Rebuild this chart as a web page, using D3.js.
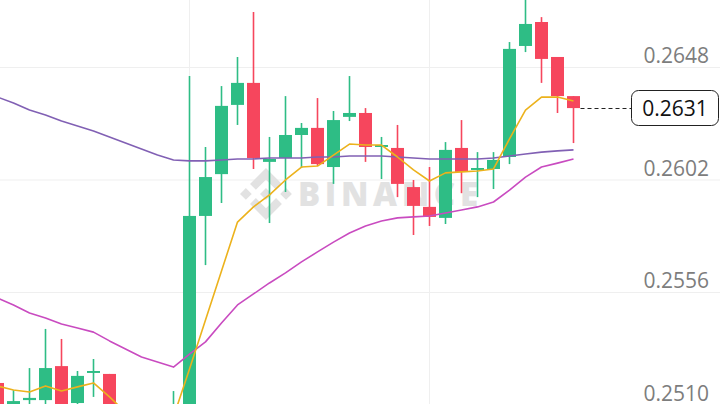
<!DOCTYPE html>
<html><head><meta charset="utf-8">
<script src="https://cdn.jsdelivr.net/npm/d3@7"></script>
<style>
html,body{margin:0;padding:0;background:#fff;overflow:hidden}
svg{display:block}
</style></head><body>
<svg id="chart" width="720" height="404"></svg>
<script>
// ---- data (prices) ----
const open  = [0.25188,0.25060,0.25118,0.25118,0.25257,0.25106,0.25229,0.25225,0.25000,0.24930,0.24900,0.24950,0.25020,0.25871,0.26042,0.26325,0.26415,0.26092,0.26108,0.26202,0.26231,0.26071,0.26276,0.26292,0.26153,0.26149,0.25989,0.25908,0.25863,0.26149,0.26059,0.26063,0.26112,0.26566,0.26664,0.26521,0.26361];
const high  = [0.25188,0.25159,0.25249,0.25409,0.25368,0.25237,0.25286,0.25225,0.25030,0.24970,0.24990,0.25155,0.26443,0.26153,0.26402,0.26521,0.26705,0.26194,0.26361,0.26251,0.26353,0.26300,0.26443,0.26312,0.26194,0.26243,0.26018,0.26071,0.26173,0.26263,0.26132,0.26132,0.26582,0.26766,0.26684,0.26521,0.26361];
const low   = [0.25000,0.25030,0.25060,0.25070,0.25020,0.25060,0.25131,0.25000,0.24900,0.24860,0.24870,0.24900,0.24980,0.25670,0.25924,0.26243,0.26063,0.25842,0.25969,0.26067,0.26075,0.26002,0.26259,0.26092,0.26022,0.25948,0.25793,0.25830,0.25838,0.25964,0.25948,0.25981,0.26083,0.26541,0.26415,0.26292,0.26169];
const close = [0.25050,0.25114,0.25127,0.25249,0.25050,0.25217,0.25237,0.25040,0.24930,0.24900,0.24950,0.25020,0.25871,0.26030,0.26321,0.26415,0.26108,0.26104,0.26202,0.26231,0.26083,0.26263,0.26292,0.26153,0.26161,0.26002,0.25912,0.25867,0.26141,0.26051,0.26067,0.26100,0.26554,0.26656,0.26513,0.26361,0.26312];
const ma7   = [0.25176,0.25159,0.25151,0.25176,0.25155,0.25172,0.25188,0.25131,0.25069,0.25016,0.24988,0.25049,0.25245,0.25446,0.25646,0.25846,0.25908,0.25957,0.26018,0.26071,0.26075,0.26120,0.26165,0.26161,0.26161,0.26112,0.26059,0.26014,0.26047,0.26051,0.26055,0.26063,0.26186,0.26304,0.26357,0.26357,0.26341];
const ma25  = [0.25535,0.25507,0.25474,0.25454,0.25429,0.25413,0.25396,0.25360,0.25327,0.25294,0.25274,0.25253,0.25306,0.25356,0.25433,0.25507,0.25552,0.25597,0.25638,0.25683,0.25724,0.25764,0.25801,0.25830,0.25850,0.25863,0.25867,0.25871,0.25883,0.25895,0.25908,0.25928,0.25977,0.26030,0.26071,0.26087,0.26104];
const ma99  = [0.26357,0.26333,0.26304,0.26284,0.26259,0.26239,0.26218,0.26194,0.26169,0.26145,0.26120,0.26100,0.26096,0.26096,0.26100,0.26104,0.26104,0.26108,0.26108,0.26108,0.26112,0.26112,0.26116,0.26116,0.26116,0.26112,0.26108,0.26104,0.26104,0.26104,0.26104,0.26108,0.26116,0.26124,0.26132,0.26137,0.26141];
const priceTicks = [0.2510, 0.2556, 0.2602, 0.2648];
const timeGridIndex = [12, 27];
const lastPrice = close[close.length - 1];

// ---- drawing ----
const W = 720, H = 404;
const GREEN = "#2ebd85", RED = "#f6465d";
const svg = d3.select("#chart");
const x = d3.scaleLinear().domain([0, open.length - 1]).range([-2.5, 573.5]);
const y = d3.scaleLinear().domain([0.2510, 0.2648]).range([404.5, 67]);

// horizontal grid
svg.append("g")
  .call(d3.axisLeft(y).tickValues(priceTicks).tickSize(-W).tickFormat(""))
  .call(g => g.select(".domain").remove())
  .call(g => g.selectAll("line").attr("stroke", "#efefef"));

// vertical grid
svg.append("g").selectAll("line").data(timeGridIndex).join("line")
  .attr("x1", d => x(d)).attr("x2", d => x(d))
  .attr("y1", 0).attr("y2", H)
  .attr("stroke", "#efefef");

// watermark
const wm = svg.append("g").attr("fill", "#e2e2e2");
const logo = wm.append("g").attr("transform", "translate(240,168) scale(0.41)");
[
  "M38.73 53.2L63.3 28.63l24.6 24.6 14.3-14.3L63.3 0 24.43 38.9l14.3 14.3z",
  "M0 63.3l14.3-14.3 14.3 14.3-14.3 14.3z",
  "M38.73 73.41L63.3 97.98l24.6-24.6 14.3 14.29-38.9 38.91-38.88-38.88-.02-.02z",
  "M97.98 63.31l14.3-14.3 14.3 14.3-14.3 14.3z",
  "M77.83 63.3L63.3 48.76 52.55 59.51l-1.24 1.24-2.54 2.54 14.53 14.53 14.53-14.51z"
].forEach(p => logo.append("path").attr("d", p));
wm.append("text").attr("x", 298).attr("y", 206)
  .attr("font-family", "'Open Sans', sans-serif").attr("font-weight", 800)
  .attr("font-size", 33).attr("textLength", 180).attr("lengthAdjust", "spacing")
  .text("BINANCE");

// candles
const idx = d3.range(open.length);
const cg = svg.append("g");
cg.selectAll("line").data(idx).join("line")
  .attr("x1", i => x(i)).attr("x2", i => x(i))
  .attr("y1", i => y(high[i])).attr("y2", i => y(low[i]))
  .attr("stroke", i => close[i] >= open[i] ? GREEN : RED)
  .attr("stroke-width", 1.6);
cg.selectAll("rect").data(idx).join("rect")
  .attr("x", i => x(i) - 6.5).attr("width", 13)
  .attr("y", i => y(Math.max(open[i], close[i])))
  .attr("height", i => Math.max(1.5, Math.abs(y(open[i]) - y(close[i]))))
  .attr("fill", i => close[i] >= open[i] ? GREEN : RED);

// moving averages
const line = d3.line().x((d, i) => x(i)).y(d => y(d));
[[ma99, "#8160b4"], [ma25, "#c94bc0"], [ma7, "#ecb21c"]].forEach(([s, c]) => {
  svg.append("path").datum(s).attr("d", line)
    .attr("fill", "none").attr("stroke", c).attr("stroke-width", 1.6)
    .attr("stroke-linejoin", "round");
});

// price axis labels
svg.append("g").attr("transform", "translate(709,0)")
  .call(d3.axisRight(y).tickValues(priceTicks).tickSize(0).tickFormat(d3.format(".4f")))
  .call(g => g.select(".domain").remove())
  .call(g => g.selectAll("text")
    .attr("x", 0).attr("dy", -4.5).attr("text-anchor", "end")
    .attr("fill", "#7d7d7d")
    .attr("font-family", "'Open Sans', sans-serif").attr("font-size", 21));

// last price marker
const ly = Math.round(y(lastPrice)) + 0.5;
svg.append("line")
  .attr("x1", x(open.length - 1) + 7).attr("x2", 631)
  .attr("y1", ly).attr("y2", ly)
  .attr("stroke", "#222").attr("stroke-dasharray", "4,3");
svg.append("rect").attr("x", 631.5).attr("y", 90.5).attr("width", 87).attr("height", 35)
  .attr("rx", 7).attr("fill", "#fff").attr("stroke", "#222");
svg.append("text").attr("x", 675).attr("y", 116).attr("text-anchor", "middle")
  .attr("font-family", "'Open Sans', sans-serif").attr("font-size", 21).attr("fill", "#111")
  .text(d3.format(".4f")(lastPrice));
</script>
</body></html>
